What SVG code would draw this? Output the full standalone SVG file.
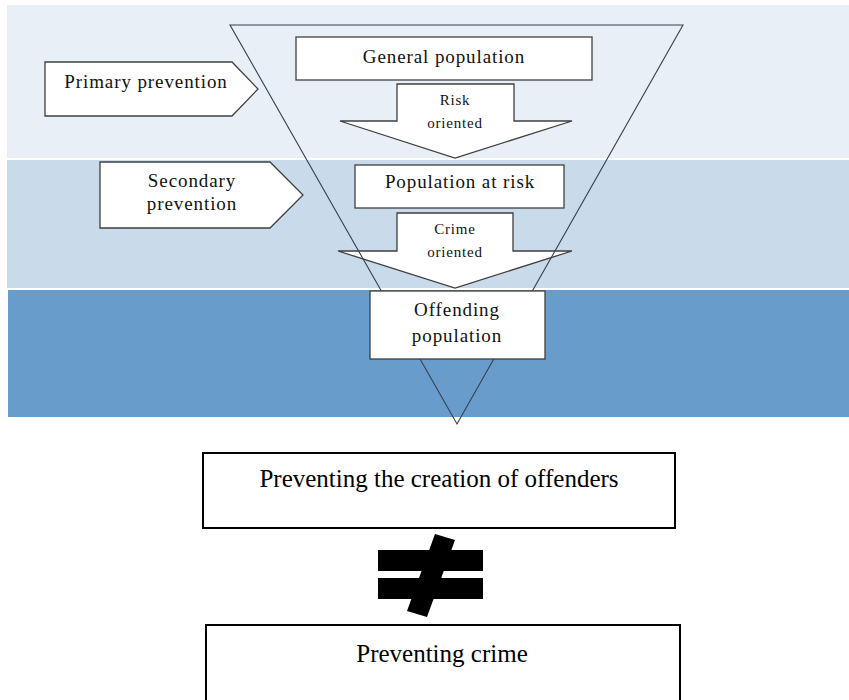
<svg xmlns="http://www.w3.org/2000/svg" width="849" height="700" viewBox="0 0 849 700">
  <style>
    .band1 { fill: #E9EFF6; }
    .band2 { fill: #C9DAEA; }
    .band3 { fill: #689CCB; }
    .shape { fill: #FFFFFF; stroke: #3F3F3F; stroke-width: 1.3; }
    .funnel { fill: none; stroke: #34414F; stroke-width: 1.1; }
    .big { fill: #FFFFFF; stroke: #000000; stroke-width: 2; }
    .lbl { font-family: "Liberation Serif", "Times New Roman", serif; font-size: 19px; letter-spacing: 0.9px; fill: #111111; text-anchor: middle; }
    .small { font-family: "Liberation Serif", "Times New Roman", serif; font-size: 15px; letter-spacing: 0.8px; fill: #111111; text-anchor: middle; }
    .bigtxt { font-family: "Liberation Serif", "Times New Roman", serif; font-size: 25px; fill: #000000; text-anchor: middle; }
  </style>

  <!-- background bands -->
  <rect class="band1" x="7" y="5" width="842" height="153"/>
  <rect class="band2" x="7" y="160" width="842" height="128"/>
  <rect class="band3" x="8" y="290" width="841" height="127"/>

  <!-- downward arrows between levels -->
  <g id="risk-oriented">
    <polygon class="shape" points="397,84 514,84 514,121 572,121 455,158 340,121 397,121"/>
    <text class="small" x="455" y="105">Risk</text>
    <text class="small" x="455" y="128">oriented</text>
  </g>
  <g id="crime-oriented">
    <polygon class="shape" points="397,213 513,213 513,251 572,251 455,288 338,251 397,251"/>
    <text class="small" x="455" y="234">Crime</text>
    <text class="small" x="455" y="257">oriented</text>
  </g>

  <!-- funnel outline -->
  <g id="connectors">
    <polygon class="funnel" points="230,25 683,25 457,424"/>
  </g>

  <g id="primary-prevention">
    <polygon class="shape" points="45,62 232,62 258,89 232,116 45,116"/>
    <text class="lbl" x="146" y="88">Primary prevention</text>
  </g>

  <g id="secondary-prevention">
    <polygon class="shape" points="100,162 270,162 303,195 270,228 100,228"/>
    <text class="lbl" x="192" y="187">Secondary</text>
    <text class="lbl" x="192" y="210">prevention</text>
  </g>

  <g id="general-population">
    <rect class="shape" x="296" y="37" width="296" height="43"/>
    <text class="lbl" x="444" y="63">General population</text>
  </g>

  <g id="population-at-risk">
    <rect class="shape" x="355" y="165" width="209" height="43"/>
    <text class="lbl" x="460" y="188">Population at risk</text>
  </g>

  <g id="offending-population">
    <rect class="shape" x="370" y="291" width="175" height="68"/>
    <text class="lbl" x="457" y="316">Offending</text>
    <text class="lbl" x="457" y="342">population</text>
  </g>

  <g id="preventing-offenders">
    <rect class="big" x="203" y="453" width="472" height="75"/>
    <text class="bigtxt" x="439" y="487">Preventing the creation of offenders</text>
  </g>

  <!-- not-equal symbol -->
  <g id="not-equal" fill="#000000">
    <rect x="378" y="550" width="105" height="21"/>
    <rect x="378" y="578" width="105" height="21"/>
    <polygon points="435,534 455,540 427,617 407,611"/>
  </g>

  <g id="preventing-crime">
    <rect class="big" x="206" y="625" width="474" height="80"/>
    <text class="bigtxt" x="442" y="662">Preventing crime</text>
  </g>
</svg>
